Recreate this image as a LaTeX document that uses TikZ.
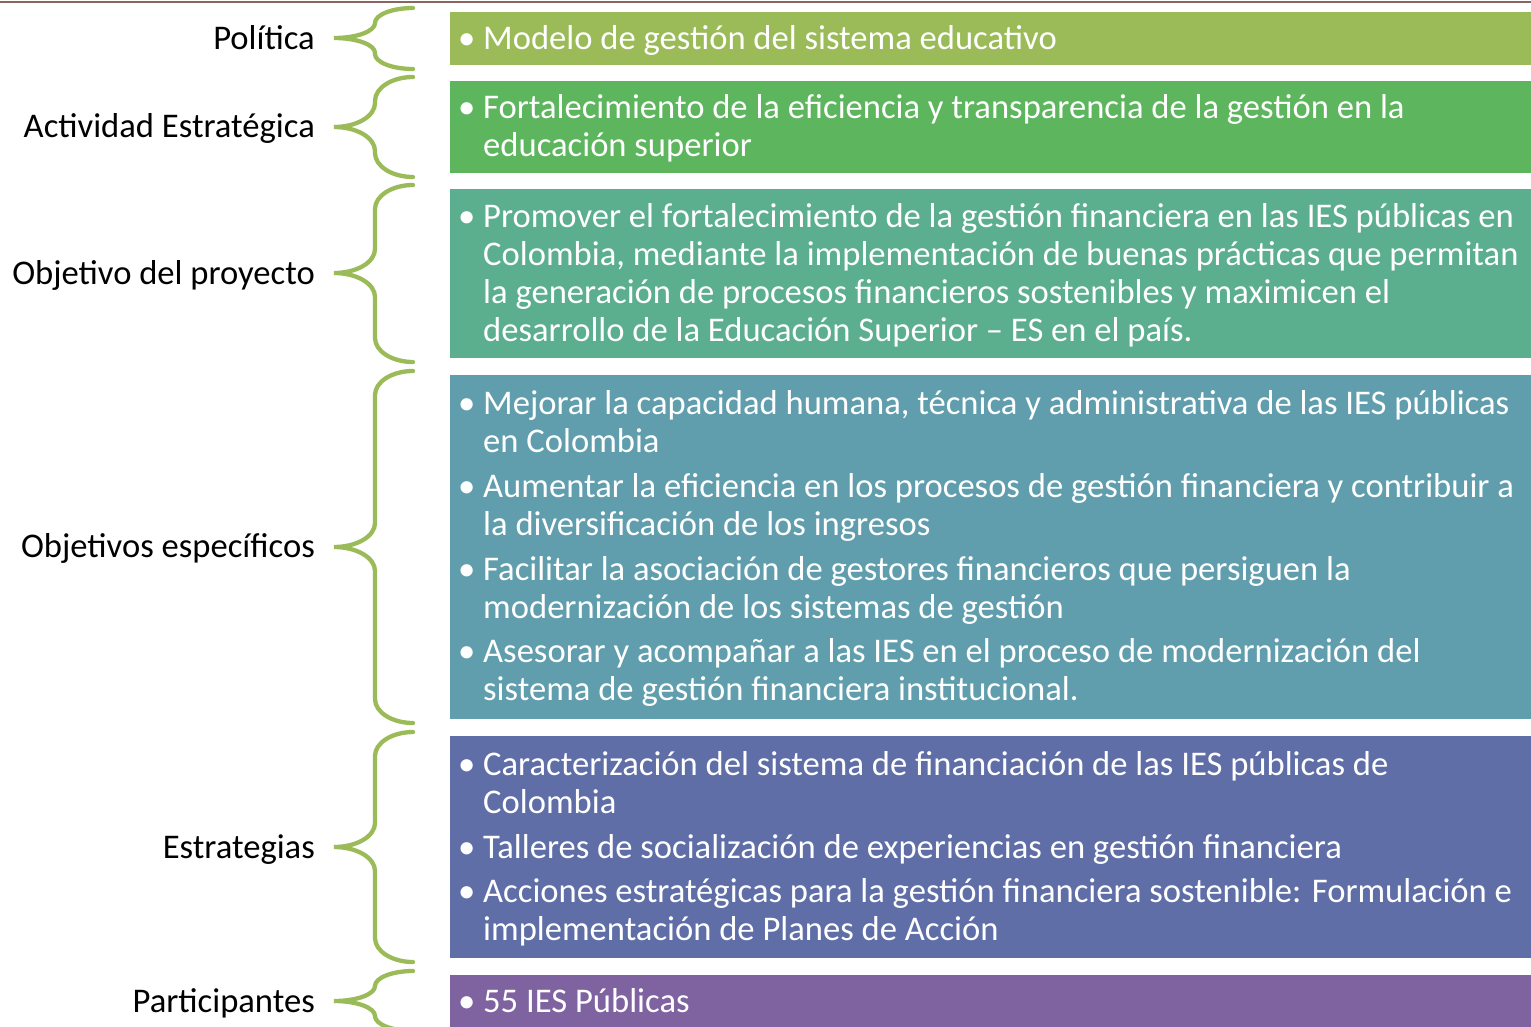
\documentclass[tikz,border=0pt]{standalone}
\usepackage{fontspec}
\setmainfont{Carlito}
\definecolor{cA}{RGB}{155,187,89}
\definecolor{cB}{RGB}{93,181,94}
\definecolor{cC}{RGB}{91,175,142}
\definecolor{cD}{RGB}{96,158,173}
\definecolor{cE}{RGB}{96,110,168}
\definecolor{cF}{RGB}{127,98,160}
\definecolor{braceg}{RGB}{155,187,89}
\definecolor{topline}{RGB}{140,100,95}
\newcommand\gbrace[4]{%
  \draw[bracestyle] (413,#1) .. controls (392,#1) and (375,{#1+0.45*#4}) .. (375,{#1+#4})
    -- (375,{#2-#4}) .. controls (375,{#2-0.45*#4}) and (357,#2) .. (334,#2)
    .. controls (357,#2) and (375,{#2+0.45*#4}) .. (375,{#2+#4})
    -- (375,{#3-#4}) .. controls (375,{#3-0.45*#4}) and (392,#3) .. (413,#3);}
\newcommand\blines[1]{\parbox[t]{1060pt}{#1}}
\begin{document}
\begin{tikzpicture}[x=1pt,y=-1pt,
  bracestyle/.style={draw=braceg,line width=4.3pt,line cap=round},
  txt/.style={inner sep=0,anchor=base west,text=white,font=\fontsize{34.6}{38}\selectfont},
  bul/.style={inner sep=0,anchor=base west,text=white,font=\fontsize{34.6}{38}\selectfont},
  lab/.style={inner sep=0,anchor=base east,font=\fontsize{34.6}{38}\selectfont}]
\useasboundingbox (0,0) rectangle (1531,1026);
\clip (0,0) rectangle (1531,1026);
\fill[white] (0,0) rectangle (1531,1026);
\draw[topline,line width=1.6pt] (0,2) -- (1531,2);
% boxes
\fill[cA] (450,12) rectangle (1531,65);
\fill[cB] (450,81) rectangle (1531,173);
\fill[cC] (450,189) rectangle (1531,358);
\fill[cD] (450,375) rectangle (1531,719);
\fill[cE] (450,736) rectangle (1531,958);
\fill[cF] (450,975) rectangle (1531,1030);
% braces
\gbrace{8}{38}{69}{15}
\gbrace{77}{127}{177}{24}
\gbrace{185}{273}{362}{24}
\gbrace{371}{547}{723}{24}
\gbrace{732}{847}{962}{24}
\gbrace{971}{1001}{1031}{15}
% labels
\node[lab] (l1) at (315,49.5) {Política};
\node[lab] (l2) at (315,137.5) {Actividad Estratégica};
\node[lab] (l3) at (315,284.5) {Objetivo del proyecto};
\node[lab] (l4) at (315,557.5) {Objetivos específicos};
\node[lab] (l5) at (315,858.5) {Estrategias};
\node[lab] (l6) at (315,1012.5) {Participantes};
% bullets and text
\foreach \y [count=\i] in {49.5,118.5,227.5,414.5,497.5,580.5,662.5,775.5,858.5,902.5,1012.5}
  \node[bul] (b\i) at (458,\y) {•};
\node[txt] (t1) at (483,49.5) {Modelo de gestión del sistema educativo};
\node[txt] (t2) at (483,118.5) {\blines{Fortalecimiento de la eficiencia y transparencia de la gestión en la\\educación superior}};
\node[txt] (t3) at (483,227.5) {\blines{Promover el fortalecimiento de la gestión financiera en las IES públicas en\\Colombia, mediante la implementación de buenas prácticas que permitan\\la generación de procesos financieros sostenibles y maximicen el\\desarrollo de la Educación Superior – ES en el país.}};
\node[txt] (t4) at (483,414.5) {\blines{Mejorar la capacidad humana, técnica y administrativa de las IES públicas\\en Colombia}};
\node[txt] (t5) at (483,497.5) {\blines{Aumentar la eficiencia en los procesos de gestión financiera y contribuir a\\la diversificación de los ingresos}};
\node[txt] (t6) at (483,580.5) {\blines{Facilitar la asociación de gestores financieros que persiguen la\\modernización de los sistemas de gestión}};
\node[txt] (t7) at (483,662.5) {\blines{Asesorar y acompañar a las IES en el proceso de modernización del\\sistema de gestión financiera institucional.}};
\node[txt] (t8) at (483,775.5) {\blines{Caracterización del sistema de financiación de las IES públicas de\\Colombia}};
\node[txt] (t9) at (483,858.5) {Talleres de socialización de experiencias en gestión financiera};
\node[txt] (t10) at (483,902.5) {\blines{Acciones estratégicas para la gestión financiera sostenible: Formulación e\\implementación de Planes de Acción}};
\node[txt] (t11) at (483,1012.5) {55 IES Públicas};
\end{tikzpicture}
\end{document}
